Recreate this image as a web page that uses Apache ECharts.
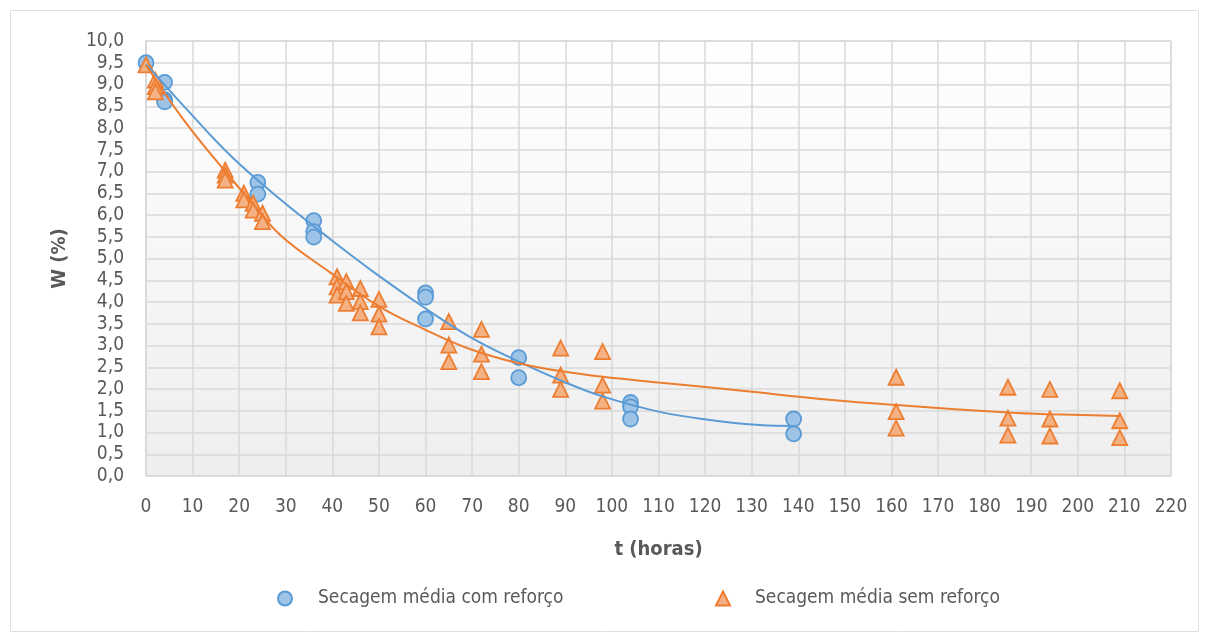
<!DOCTYPE html>
<html>
<head>
<meta charset="utf-8">
<script src="https://cdn.jsdelivr.net/npm/echarts@6/dist/echarts.min.js"></script>
<style>html,body{margin:0;padding:0;background:#fff}#c{width:1205px;height:636px}</style>
</head>
<body>
<div id="c"></div>
<script>
// Data
var comReforcoT = [0, 4, 4, 4, 24, 24, 36, 36, 36, 60, 60, 60, 80, 80, 104, 104, 104, 139, 139];
var comReforcoW = [9.5, 9.05, 8.65, 8.6, 6.75, 6.48, 5.87, 5.62, 5.49, 4.21, 4.11, 3.61, 2.72, 2.26, 1.69, 1.59, 1.31, 1.31, 0.97];

var semReforcoT = [0, 2, 2, 2, 17, 17, 17, 21, 21, 23, 23, 25, 25, 41, 41, 41, 43, 43, 43, 46, 46, 46, 50, 50, 50, 65, 65, 65, 72, 72, 72, 89, 89, 89, 98, 98, 98, 161, 161, 161, 185, 185, 185, 194, 194, 194, 209, 209, 209];
var semReforcoW = [9.45, 9.1, 8.95, 8.83, 7.03, 6.92, 6.8, 6.5, 6.35, 6.27, 6.11, 6.04, 5.85, 4.58, 4.35, 4.16, 4.47, 4.24, 3.97, 4.31, 4.01, 3.75, 4.06, 3.72, 3.43, 3.55, 3.01, 2.63, 3.37, 2.8, 2.4, 2.94, 2.32, 1.99, 2.86, 2.09, 1.72, 2.27, 1.48, 1.1, 2.04, 1.33, 0.94, 1.99, 1.31, 0.92, 1.96, 1.27, 0.88];

// Trend lines
var trendComT = [0, 9, 18, 28.8, 39.5, 50, 60, 69.5, 80, 89.6, 98, 110, 121, 131.8, 139];
var trendComW = [9.47, 8.4, 7.38, 6.36, 5.45, 4.6, 3.85, 3.2, 2.63, 2.17, 1.83, 1.48, 1.29, 1.17, 1.15];

var trendSemT = [0, 8, 17, 22.3, 28.8, 39.5, 50, 60, 69.5, 80, 89.6, 98, 110, 128, 146, 164, 185, 194, 209];
var trendSemW = [9.45, 8.2, 7.0, 6.34, 5.54, 4.68, 3.9, 3.36, 2.92, 2.59, 2.4, 2.28, 2.15, 1.96, 1.76, 1.61, 1.46, 1.42, 1.38];

var seriesNames = ['Secagem média com reforço', 'Secagem média sem reforço'];

function zip(a, b) { return a.map(function (v, i) { return [v, b[i]]; }); }

var FONT = '"Liberation Sans Narrow", "DejaVu Sans Condensed", sans-serif';
var TXT = '#595959';
var GRID = '#d9d9d9';

var chart = echarts.init(document.getElementById('c'), null, {renderer: 'canvas'});
chart.setOption({
  animation: false,
  backgroundColor: '#ffffff',
  graphic: [{
    type: 'rect', left: 8, top: 8, shape: {width: 1188, height: 621},
    style: {fill: 'none', stroke: '#e0e0e0', lineWidth: 1}, silent: true, z: -10
  }],
  grid: {
    left: 146, right: 34, top: 41, bottom: 160, show: true,
    borderColor: GRID, borderWidth: 1,
    backgroundColor: new echarts.graphic.LinearGradient(0, 0, 0, 1, [
      {offset: 0, color: '#ffffff'}, {offset: 1, color: '#eeeeee'}
    ])
  },
  legend: [{
    left: 272, top: 584, itemWidth: 14, itemHeight: 14, data: [seriesNames[0]],
    textStyle: {fontFamily: FONT, fontSize: 19, color: TXT, padding: [0, 0, 0, 21]}
  }, {
    left: 710, top: 584, itemWidth: 14, itemHeight: 14, data: [seriesNames[1]],
    textStyle: {fontFamily: FONT, fontSize: 19, color: TXT, padding: [0, 0, 0, 20]}
  }],
  xAxis: {
    type: 'value', min: 0, max: 220, interval: 10,
    name: 't (horas)', nameLocation: 'middle', nameGap: 64,
    nameTextStyle: {fontFamily: FONT, fontSize: 20, fontWeight: 'bold', color: TXT},
    axisLine: {show: true, lineStyle: {color: GRID, width: 1.5}},
    axisTick: {show: false},
    axisLabel: {fontFamily: FONT, fontSize: 19, color: TXT, margin: 22},
    splitLine: {show: true, lineStyle: {color: GRID, width: 1.5}}
  },
  yAxis: {
    type: 'value', min: 0, max: 10, interval: 0.5,
    name: 'W (%)', nameLocation: 'middle', nameGap: 76, nameRotate: 90,
    nameTextStyle: {fontFamily: FONT, fontSize: 20, fontWeight: 'bold', color: TXT},
    axisLine: {show: true, lineStyle: {color: GRID, width: 1.5}},
    axisTick: {show: false},
    axisLabel: {fontFamily: FONT, fontSize: 19, color: TXT, margin: 22,
      formatter: function (v) { return v.toFixed(1).replace('.', ','); }},
    splitLine: {show: true, lineStyle: {color: GRID, width: 1.5}}
  },
  series: [{
    name: seriesNames[0], type: 'scatter', symbol: 'circle', symbolSize: 15,
    data: zip(comReforcoT, comReforcoW),
    itemStyle: {color: '#9dc3e6', borderColor: '#5b9bd5', borderWidth: 1.8, opacity: 1},
    z: 3
  }, {
    name: seriesNames[1], type: 'scatter', symbol: 'triangle', symbolSize: 15,
    data: zip(semReforcoT, semReforcoW),
    itemStyle: {color: '#f4b183', borderColor: '#ed7d31', borderWidth: 1.8, opacity: 1},
    z: 3
  }, {
    name: 'trendCom', type: 'line', smooth: 0.4, showSymbol: false, symbol: 'none',
    data: zip(trendComT, trendComW),
    lineStyle: {color: '#5b9bd5', width: 2}, z: 5, silent: true
  }, {
    name: 'trendSem', type: 'line', smooth: 0.4, showSymbol: false, symbol: 'none',
    data: zip(trendSemT, trendSemW),
    lineStyle: {color: '#ed7d31', width: 2}, z: 5, silent: true
  }]
});
</script>
</body>
</html>
